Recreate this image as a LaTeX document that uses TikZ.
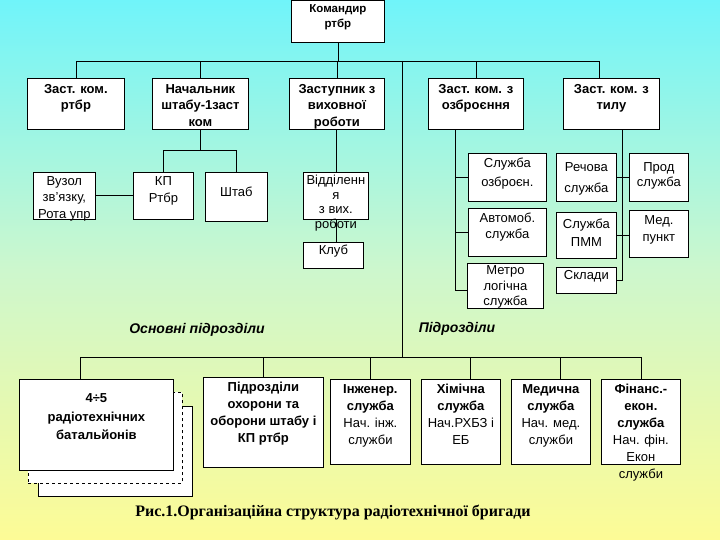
\documentclass[tikz,border=0pt]{standalone}
\usepackage{fontspec}
\setmainfont{Liberation Sans}
\newfontfamily\capfont{Liberation Serif}
\usepackage{tikz}
\usetikzlibrary{positioning}

\definecolor{bgtop}{RGB}{112,244,250}
\definecolor{bgmid}{RGB}{205,247,205}
\definecolor{bgbot}{RGB}{253,251,150}

% box text: top pad, width, height, lines
\newcommand\bx[4]{\parbox[c][#3pt][t]{#2pt}{\centering\vspace*{#1pt}\rule{0pt}{10pt}#4}}

\tikzset{
  box/.style={draw, fill=white, line width=0.8pt, inner sep=0pt, anchor=north west},
  head/.style={box, font=\bfseries\fontsize{13}{16.5}\selectfont},
  unit/.style={box, font=\fontsize{13}{19}\selectfont},
  serv/.style={box, font=\fontsize{13}{17}\selectfont},
  link/.style={line width=0.8pt},
  tag/.style={font=\bfseries\itshape\fontsize{14}{16}\selectfont}
}

\begin{document}
\begin{tikzpicture}[x=1pt,y=-1pt]
\useasboundingbox (0,0) rectangle (720,540);
\shade[top color=bgtop, bottom color=bgbot, middle color=bgmid] (0,0) rectangle (720,540);

\node[head, font=\bfseries\fontsize{11.5}{15}\selectfont] (kom) at (291,0) {\bx{2.3}{93}{42}{Командир\\ртбр}};
\node[head] (zastkom) at (27,78) {\bx{5}{97}{51}{Заст. ком.\\ртбр}};
\node[head] (nsh) at (152,78) {\bx{5}{96}{51}{Начальник\\штабу-1заст\\ком}};
\node[head] (zvr) at (289,78) {\bx{5}{95}{51}{Заступник з\\виховної\\роботи}};
\node[head] (zozbr) at (428,78) {\bx{5}{95}{51}{Заст. ком. з\\озброєння}};
\node[head] (ztyl) at (563,78) {\bx{5}{96}{51}{Заст. ком. з\\тилу}};

\node[unit, font=\fontsize{13}{16.5}\selectfont] (vuzol) at (33,172) {\bx{3}{62}{47}{Вузол\\зв'язку,\\Рота упр}};
\node[unit, font=\fontsize{13}{16.5}\selectfont] (kp) at (133,172) {\bx{3.5}{60}{47}{КП\\Ртбр}};
\node[unit] (shtab) at (205,172) {\bx{14.5}{62}{49}{Штаб}};
\node[unit, font=\fontsize{13}{14.5}\selectfont] (viddil) at (303,172) {\bx{2.5}{65}{47}{Відділенн\\я\\з вих.\\роботи}};
\node[unit] (klub) at (303,242) {\bx{2.5}{60}{26}{Клуб}};
\node[unit] (sozbr) at (468,153) {\bx{4.5}{78}{48}{Служба\\озброєн.}};
\node[unit, font=\fontsize{13}{16}\selectfont] (avto) at (468,208) {\bx{4.5}{78}{48}{Автомоб.\\служба}};
\node[unit, font=\fontsize{13}{15.5}\selectfont] (metro) at (467,263) {\bx{1.5}{76}{45}{Метро\\логічна\\служба}};
\node[unit, font=\fontsize{13}{21}\selectfont] (rech) at (556,153) {\bx{8.5}{60}{48}{Речова\\служба}};
\node[unit, font=\fontsize{13}{18}\selectfont] (pmm) at (556,212) {\bx{6.5}{60}{46}{Служба\\ПММ}};
\node[unit] (sklad) at (556,267) {\bx{2.5}{60}{26}{Склади}};
\node[unit, font=\fontsize{13}{15}\selectfont] (prod) at (629,153) {\bx{8.5}{59}{48}{Прод\\служба}};
\node[unit, font=\fontsize{13}{17}\selectfont] (med) at (629,210) {\bx{4.5}{59}{47}{Мед.\\пункт}};

\node[box] (bat3) at (38,406) {\bx{0}{154}{90}{}};
\node[box, dashed] (bat2) at (28,392) {\bx{0}{154}{91}{}};
\node[head, font=\bfseries\fontsize{13}{18.5}\selectfont] (bat1) at (19,379) {\bx{13.5}{154}{91}{4÷5\\радіотехнічних\\батальйонів}};
\node[head, font=\bfseries\fontsize{13}{17}\selectfont] (ohor) at (203,377) {\bx{4.5}{120}{90}{Підрозділи\\охорони та\\оборони штабу і\\КП ртбр}};
\node[serv] (inzh) at (330,379) {\bx{4.5}{80}{85}{\textbf{Інженер.}\\\textbf{служба}\\Нач. інж.\\служби}};
\node[serv] (khim) at (421,379) {\bx{4.5}{79}{85}{\textbf{Хімічна}\\\textbf{служба}\\Нач.РХБЗ і\\ЕБ}};
\node[serv] (med2) at (511,379) {\bx{4.5}{79}{85}{\textbf{Медична}\\\textbf{служба}\\Нач. мед.\\служби}};
\node[serv] (fin) at (601,379) {\bx{4.5}{79}{85}{\textbf{Фінанс.-}\\\textbf{екон.}\\\textbf{служба}\\Нач. фін.\\Екон\\служби}};

\node[tag] (osn) at (197,330) {Основні підрозділи};
\node[tag] (pidr) at (457,329) {Підрозділи};
\node[font=\capfont\bfseries\fontsize{16}{18}\selectfont] (cap) at (333,512) {Рис.1.Організаційна структура радіотехнічної бригади};

\coordinate (tb) at (0,61);
\coordinate (bb) at (0,357);
\coordinate (vx) at (402,0);
\coordinate (tylx) at (599,0);
\coordinate (kpb) at (0,150);
\coordinate (ozx) at (455,0);
\coordinate (mty) at (0,290);
\coordinate (tyx) at (622,0);
\coordinate (batx) at (80,0);
\coordinate (khx) at (470,0);
\coordinate (mdx) at (560,0);

\draw[link] (kom) -- (kom |- tb);
\draw[link] (zastkom.north) |- (tb -| tylx) -- (ztyl.north -| tylx);
\foreach \n in {nsh,zvr,zozbr} \draw[link] (\n.north) -- (\n.north |- tb);
\draw[link] (tb -| vx) -- (bb -| vx);

\draw[link] (nsh) -- (nsh |- kpb);
\draw[link] (kp.north) |- (kpb -| shtab.north) -- (shtab.north);
\draw[link] (vuzol) -- (kp);
\draw[link] (viddil.north) -- (viddil.north |- zvr.south);
\draw[link] (viddil.south) -- (klub.north -| viddil.south);

\draw[link] (zozbr.south -| ozx) |- (mty -| metro.west);
\foreach \n in {sozbr,avto} \draw[link] (\n.west) -- (\n.west -| ozx);
\draw[link] (ztyl.south -| tyx) |- (sklad.east);
\draw[link] (rech) -- (prod);
\draw[link] (pmm.east) -- (pmm.east -| med.west);

\draw[link] (bat1.north -| batx) |- (bb -| fin.north) -- (fin.north);
\foreach \n in {ohor,inzh} \draw[link] (\n.north) -- (\n.north |- bb);
\draw[link] (khim.north -| khx) -- (bb -| khx);
\draw[link] (med2.north -| mdx) -- (bb -| mdx);
\end{tikzpicture}
\end{document}
